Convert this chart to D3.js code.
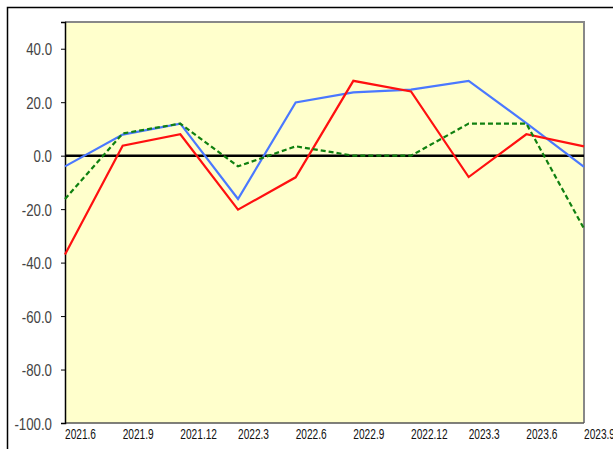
<!DOCTYPE html>
<html lang="ja">
<head>
<meta charset="utf-8">
<script src="https://d3js.org/d3.v7.min.js"></script>
<style>
  body { margin: 0; background: #fff; }
  text { font-family: "Liberation Sans", Arial, sans-serif; fill: #222; }
</style>
</head>
<body>
<div id="chart"></div>
<script>
// data
var periods = ["2021.6", "2021.9", "2021.12", "2022.3", "2022.6", "2022.9", "2022.12", "2023.3", "2023.6", "2023.9"]
var redSeries   = [-37.0, 3.7, 8.0, -20.2, -8.1, 28.0, 24.0, -8.0, 8.0, 3.5]
var blueSeries  = [-4.0, 7.9, 12.0, -16.2, 19.9, 23.7, 24.7, 28.0, 12.2, -4.2]
var greenSeries = [-16.2, 8.3, 12.0, -4.0, 3.5, 0.0, 0.0, 12.0, 12.0, -27.3]
var yTicks = [-100, -80, -60, -40, -20, 0, 20, 40]

var width = 613, height = 449
var plotL = 65, plotR = 584, plotT = 22, plotB = 423

var svg = d3.select("#chart").append("svg")
    .attr("width", width)
    .attr("height", height)

// outer frame (only left and top are inside the picture)
svg.append("path")
    .attr("d", "M7.5," + height + " V7.5 H" + width)
    .attr("fill", "none")
    .attr("stroke", "#000")
    .attr("stroke-width", 1.5)

var x = d3.scalePoint().domain(periods).range([plotL, plotR])
var y = d3.scaleLinear().domain([-100, 50]).range([plotB, plotT])

// plot background
svg.append("rect")
    .attr("x", plotL).attr("y", plotT)
    .attr("width", plotR - plotL).attr("height", plotB - plotT)
    .attr("fill", "#ffffcc")

// gray border top / right
svg.append("path")
    .attr("d", "M" + plotL + "," + plotT + " H" + plotR + " V" + plotB)
    .attr("fill", "none")
    .attr("stroke", "#888")
    .attr("stroke-width", 2)
svg.append("line")
    .attr("x1", plotL).attr("x2", plotR)
    .attr("y1", plotB).attr("y2", plotB)
    .attr("stroke", "#555").attr("stroke-width", 1.5)

// y axis
var yAxis = svg.append("g")
    .attr("transform", "translate(" + plotL + ",0)")
    .call(d3.axisLeft(y).tickValues(yTicks).tickSize(4).tickFormat(function(d) { return d.toFixed(1) }))
yAxis.select(".domain").attr("stroke", "#000").attr("stroke-width", 1.5)
yAxis.selectAll(".tick line").attr("stroke", "#000")
yAxis.selectAll(".tick text")
    .attr("x", 0).attr("dy", null).attr("dominant-baseline", "central")
    .attr("text-anchor", "end")
    .attr("font-size", 17)
    .attr("font-family", "Liberation Sans, Arial, sans-serif")
    .attr("transform", "translate(-13,0) scale(0.78,1)")
    .style("fill", "#444")

// x labels, start aligned at each category
svg.append("g").selectAll("text")
    .data(periods)
    .enter().append("text")
    .attr("transform", function(d) { return "translate(" + x(d) + ",439) scale(0.7,1)" })
    .attr("font-size", 14.5)
    .style("fill", "#111")
    .text(function(d) { return d })

// zero line
svg.append("line")
    .attr("x1", plotL).attr("x2", plotR)
    .attr("y1", y(0)).attr("y2", y(0))
    .attr("stroke", "#000").attr("stroke-width", 2.5)

var line = d3.line()
    .x(function(d, i) { return x(periods[i]) })
    .y(function(d) { return y(d) })

var plot = svg.append("g")

plot.append("path").datum(blueSeries)
    .attr("d", line).attr("fill", "none")
    .attr("stroke", "#4a78ff").attr("stroke-width", 2.2)

plot.append("path").datum(redSeries)
    .attr("d", line).attr("fill", "none")
    .attr("stroke", "#ff1010").attr("stroke-width", 2.2)

plot.append("path").datum(greenSeries)
    .attr("d", line).attr("fill", "none")
    .attr("stroke", "#108010").attr("stroke-width", 2.2)
    .attr("stroke-dasharray", "5,3")
</script>
</body>
</html>
